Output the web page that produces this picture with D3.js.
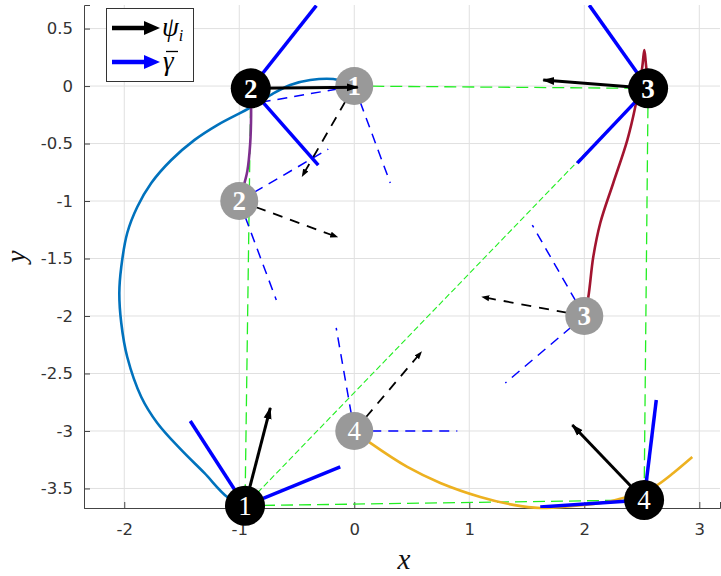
<!DOCTYPE html>
<html>
<head>
<meta charset="utf-8">
<script src="https://cdn.jsdelivr.net/npm/d3@7"></script>
<style>
  html, body { margin: 0; padding: 0; background: #fff; }
  svg { display: block; }
</style>
</head>
<body>
<svg id="chart" width="721" height="576"></svg>
<script>
// ---- data ----
const xTicks = [-2, -1, 0, 1, 2, 3];
const yTicks = [0.5, 0, -0.5, -1, -1.5, -2, -2.5, -3, -3.5];

// final positions (black) and initial positions (gray)
const blackNodes = [
  { id: "1", x: -0.95, y: -3.65, bold: false },
  { id: "2", x: -0.90, y: -0.02, bold: true },
  { id: "3", x: 2.555, y: -0.02, bold: true },
  { id: "4", x: 2.52, y: -3.60, bold: false }
];
const grayNodes = [
  { id: "1", x: 0, y: 0, bold: true },
  { id: "2", x: -1, y: -1, bold: true },
  { id: "3", x: 2, y: -2, bold: true },
  { id: "4", x: 0, y: -3, bold: false }
];

// psi_i tips
const psiBlack = [[-0.73, -2.80], [0.03, -0.01], [1.643, 0.052], [1.896, -2.948]];
const psiGray = [[-0.452, -0.783], [-0.148, -1.313], [1.113, -1.835], [0.583, -2.313]];

// gamma-bar cone edges (two per node)
const gammaBlack = [
  [[-1.426, -2.913], [-0.122, -3.313]],
  [[-0.330, 0.700], [-0.313, -0.687]],
  [[2.043, 0.704], [1.939, -0.670]],
  [[2.626, -2.730], [1.617, -3.661]]
];
const gammaGray = [
  [[-0.80, -0.139], [0.313, -0.843]],
  [[-0.226, -0.548], [-0.678, -1.861]],
  [[1.548, -1.209], [1.313, -2.583]],
  [[-0.157, -2.104], [0.896, -3.0]]
];

// trajectories
const traj1 = [[-0.95, -3.65], [-1.104, -3.574], [-1.304, -3.365], [-1.504, -3.165], [-1.713, -2.930],
  [-1.852, -2.704], [-1.974, -2.357], [-2.026, -2.061], [-2.043, -1.800], [-2.026, -1.574],
  [-1.974, -1.278], [-1.887, -1.052], [-1.765, -0.843], [-1.591, -0.643], [-1.391, -0.470],
  [-1.191, -0.339], [-0.896, -0.183], [-0.713, -0.070], [-0.557, 0.009], [-0.383, 0.052],
  [-0.183, 0.061], [-0.078, 0.035], [0, 0]];
const traj2 = [[-0.90, -0.02], [-0.897, -0.25], [-0.905, -0.50], [-0.93, -0.74], [-0.965, -0.88], [-1, -1]];
const traj3 = [[2.557, -0.02], [2.535, 0.20], [2.522, 0.313], [2.504, 0.165], [2.443, -0.183],
  [2.374, -0.470], [2.252, -0.843], [2.139, -1.191], [2.078, -1.487], [2.035, -1.835], [2, -2]];
const traj4 = [[0, -3], [0.139, -3.104], [0.461, -3.313], [0.748, -3.452], [1.096, -3.574],
  [1.383, -3.643], [1.617, -3.670], [1.904, -3.652], [2.2, -3.617], [2.374, -3.574],
  [2.52, -3.53], [2.635, -3.470], [2.774, -3.365], [2.939, -3.226]];
const trajColors = ["#0072BD", "#7E2F8E", "#A2142F", "#EDB120"];

(function draw() {
  const svg = d3.select("#chart");
  const pL = 84, pR = 720, pT = 5, pB = 508;
  const x = d3.scaleLinear().domain([-2.35, 3.18]).range([pL, pR]);
  const y = d3.scaleLinear().domain([-3.67, 0.705]).range([pB, pT]);

  const defs = svg.append("defs");
  defs.append("marker").attr("id", "headSolid").attr("markerUnits", "userSpaceOnUse")
    .attr("viewBox", "0 -5 12 10").attr("refX", 11).attr("refY", 0)
    .attr("markerWidth", 12).attr("markerHeight", 10).attr("orient", "auto")
    .append("path").attr("d", "M0,-4L12,0L0,4Z").attr("fill", "#000");
  defs.append("marker").attr("id", "headDash").attr("markerUnits", "userSpaceOnUse")
    .attr("viewBox", "0 -4 8 8").attr("refX", 7).attr("refY", 0)
    .attr("markerWidth", 8).attr("markerHeight", 8).attr("orient", "auto")
    .append("path").attr("d", "M0,-3L8,0L0,3Z").attr("fill", "#000");
  defs.append("clipPath").attr("id", "plotClip").append("rect")
    .attr("x", pL).attr("y", pT).attr("width", pR - pL).attr("height", pB - pT);

  // grid
  const grid = svg.append("g");
  grid.selectAll(".gx").data(xTicks).join("line")
    .attr("x1", d => x(d)).attr("x2", d => x(d)).attr("y1", pT).attr("y2", pB)
    .attr("stroke", "#e0e0e0").attr("stroke-width", 1);
  grid.selectAll(".gy").data(yTicks).join("line")
    .attr("x1", pL).attr("x2", pR).attr("y1", d => y(d)).attr("y2", d => y(d))
    .attr("stroke", "#e0e0e0").attr("stroke-width", 1);

  // axes with inward ticks
  const fmt = d => String(d).replace("\u2212", "-");
  const xAxis = d3.axisBottom(x).tickValues(xTicks).tickSize(-6).tickPadding(15).tickFormat(fmt);
  const yAxis = d3.axisLeft(y).tickValues(yTicks).tickSize(-6).tickPadding(11).tickFormat(fmt);
  const gx = svg.append("g").attr("transform", `translate(0,${pB})`).call(xAxis);
  const gy = svg.append("g").attr("transform", `translate(${pL},0)`).call(yAxis);
  [gx, gy].forEach(g => {
    g.select(".domain").attr("stroke", "#444").attr("stroke-width", 1);
    g.selectAll(".tick line").attr("stroke", "#444");
    g.selectAll(".tick text").attr("fill", "#333")
      .style("font-family", "DejaVu Sans").style("font-size", "16.5px");
  });

  // axis titles
  svg.append("text").attr("x", (pL + pR) / 2 + 2).attr("y", 569)
    .attr("text-anchor", "middle").style("font-family", "Liberation Serif")
    .style("font-style", "italic").style("font-size", "29px").attr("fill", "#111").text("x");
  svg.append("text").attr("transform", `translate(25,${(pT + pB) / 2}) rotate(-90)`)
    .attr("text-anchor", "middle").style("font-family", "Liberation Serif")
    .style("font-style", "italic").style("font-size", "27px").attr("fill", "#111").text("y");

  const plot = svg.append("g");

  // green reference polygon
  const B = blackNodes;
  const greenDashed = [[grayNodes[0], B[2]], [B[2], B[3]], [B[0], B[3]], [B[1], B[0]]];
  plot.selectAll(".gd").data(greenDashed).join("line")
    .attr("x1", d => x(d[0].x)).attr("y1", d => y(d[0].y))
    .attr("x2", d => x(d[1].x)).attr("y2", d => y(d[1].y))
    .attr("stroke", "#22ee22").attr("stroke-width", 1.3).attr("stroke-dasharray", "12,6");
  plot.append("line")
    .attr("x1", x(B[0].x)).attr("y1", y(B[0].y)).attr("x2", x(B[2].x)).attr("y2", y(B[2].y))
    .attr("stroke", "#22ee22").attr("stroke-width", 1.1).attr("stroke-dasharray", "6,3");

  // trajectories
  const lineGen = d3.line().x(d => x(d[0])).y(d => y(d[1])).curve(d3.curveCatmullRom.alpha(0.5));
  plot.selectAll(".traj").data([traj1, traj2, traj3, traj4]).join("path")
    .attr("d", lineGen).attr("fill", "none")
    .attr("stroke", (d, i) => trajColors[i]).attr("stroke-width", 2.6);

  // gray-node cones and headings
  grayNodes.forEach((n, i) => {
    gammaGray[i].forEach(e => {
      plot.append("line").attr("x1", x(n.x)).attr("y1", y(n.y)).attr("x2", x(e[0])).attr("y2", y(e[1]))
        .attr("stroke", "#0000ff").attr("stroke-width", 1.5).attr("stroke-dasharray", "10,7");
    });
  });
  grayNodes.forEach((n, i) => {
    const t = psiGray[i];
    plot.append("line").attr("x1", x(n.x)).attr("y1", y(n.y)).attr("x2", x(t[0])).attr("y2", y(t[1]))
      .attr("stroke", "#000").attr("stroke-width", 1.8).attr("stroke-dasharray", "10,8")
      .attr("marker-end", "url(#headDash)");
  });

  function drawNodes(nodes, fill, r) {
    const g = plot.append("g");
    g.selectAll("circle").data(nodes).join("circle")
      .attr("cx", d => x(d.x)).attr("cy", d => y(d.y)).attr("r", r).attr("fill", fill);
    g.selectAll("text").data(nodes).join("text")
      .attr("x", d => x(d.x)).attr("y", d => y(d.y)).attr("dy", "0.34em")
      .attr("text-anchor", "middle").attr("fill", "#fff")
      .style("font-family", "Liberation Serif").style("font-size", "27px")
      .style("font-weight", d => d.bold ? "bold" : "normal").text(d => d.id);
  }
  drawNodes(grayNodes, "#999999", 19);

  // black-node cones and headings
  const clipped = plot.append("g").attr("clip-path", "url(#plotClip)");
  blackNodes.forEach((n, i) => {
    gammaBlack[i].forEach(e => {
      clipped.append("line").attr("x1", x(n.x)).attr("y1", y(n.y)).attr("x2", x(e[0])).attr("y2", y(e[1]))
        .attr("stroke", "#0000ff").attr("stroke-width", 3.5);
    });
  });
  blackNodes.forEach((n, i) => {
    const t = psiBlack[i];
    plot.append("line").attr("x1", x(n.x)).attr("y1", y(n.y)).attr("x2", x(t[0])).attr("y2", y(t[1]))
      .attr("stroke", "#000").attr("stroke-width", 3).attr("marker-end", "url(#headSolid)");
  });
  drawNodes(blackNodes, "#000", 20);

  // legend
  const lg = svg.append("g");
  lg.append("rect").attr("x", 106.5).attr("y", 8.5).attr("width", 87).attr("height", 73)
    .attr("fill", "#fff").attr("stroke", "#333").attr("stroke-width", 1);
  const legendItems = [{ color: "#000", y: 28 }, { color: "#0000ff", y: 62 }];
  legendItems.forEach(it => {
    lg.append("line").attr("x1", 112).attr("x2", 147).attr("y1", it.y).attr("y2", it.y)
      .attr("stroke", it.color).attr("stroke-width", 4.5);
    lg.append("path").attr("d", `M144,${it.y - 7}L160,${it.y}L144,${it.y + 7}Z`).attr("fill", it.color);
  });
  const psiText = lg.append("text").attr("x", 162).attr("y", 36)
    .style("font-family", "Liberation Serif").style("font-style", "italic")
    .style("font-size", "27px").attr("fill", "#000");
  psiText.append("tspan").text("ψ");
  psiText.append("tspan").attr("dy", 5).style("font-size", "16px").text("i");
  lg.append("text").attr("x", 163).attr("y", 70)
    .style("font-family", "Liberation Serif").style("font-style", "italic")
    .style("font-size", "27px").attr("fill", "#000").text("γ");
  lg.append("line").attr("x1", 166).attr("x2", 178).attr("y1", 51.5).attr("y2", 51.5)
    .attr("stroke", "#000").attr("stroke-width", 1.3);
})();
</script>
</body>
</html>
